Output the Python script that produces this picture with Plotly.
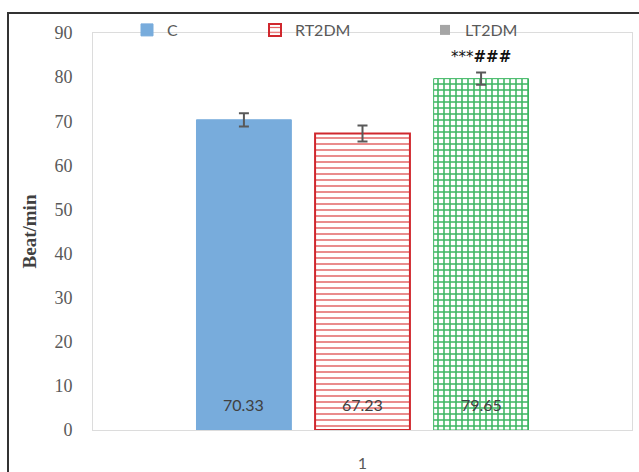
import plotly.graph_objects as go

# Heart rate per group (beats per minute), mean ± error
categories = ["1"]
groups = ["C", "RT2DM", "LT2DM"]
means = [70.33, 67.23, 79.65]
errors = [1.5, 1.8, 1.4]
significance = ["", "", "***<b>###</b>"]

# Plot-area geometry (pixels) used for the layout
W, H = 639, 472
ML, MR, MT, MB = 93, 7, 33, 42
PW = W - ML - MR
PH = H - MT - MB
BARGAP = 0.34
BARGROUPGAP = 0.2
slot_px = PW * (1 - BARGAP) / len(groups)

blue = "#78acdc"
red = "#d0282e"
red_dash = "#e46666"
green = "#3cb661"
grey_txt = "#595959"

fig = go.Figure()

styles = [
    dict(color=blue, line=dict(color=blue, width=1)),
    dict(color="white", line=dict(color=red, width=2),
         pattern=dict(shape="-", fgcolor=red_dash, bgcolor="white", size=6,
                      solidity=0.25, fillmode="replace")),
    dict(color="white", line=dict(color=green, width=1),
         pattern=dict(shape="+", fgcolor=green, bgcolor="white", size=6,
                      solidity=0.45, fillmode="replace")),
]
legend_ids = ["legend", "legend2", "legend3"]

for i, g in enumerate(groups):
    fig.add_trace(go.Bar(
        x=categories, y=[means[i]], name=g,
        marker=styles[i],
        error_y=dict(type="data", array=[errors[i]], color=grey_txt,
                     thickness=2, width=5),
        showlegend=(i < 2), legend=legend_ids[i],
    ))

# LT2DM legend key is a plain grey square
fig.add_trace(go.Scatter(
    x=[None], y=[None], mode="markers", name=groups[2],
    marker=dict(symbol="square", size=10, color="#a5a5a5"),
    legend="legend3", showlegend=True,
))

annotations = []
for i, g in enumerate(groups):
    shift = (i - (len(groups) - 1) / 2) * slot_px
    annotations.append(dict(
        x=0, y=0, xref="x", yref="y", xshift=shift, yshift=14,
        yanchor="bottom", text=f"{means[i]:.2f}", showarrow=False,
        font=dict(family="Lato", size=16, color="#404040"),
    ))
    if significance[i]:
        annotations.append(dict(
            x=0, y=means[i] + errors[i], xref="x", yref="y",
            xshift=shift, yshift=4, yanchor="bottom", text=significance[i],
            showarrow=False,
            font=dict(family="DejaVu Sans", size=15, color="#111111"),
        ))

legend_common = dict(
    orientation="h", yanchor="middle", xanchor="left",
    font=dict(family="Lato", size=16, color=grey_txt),
    bgcolor="rgba(0,0,0,0)",
)

def px_x(p):
    return (p - ML) / PW

def px_y(p):
    return (H - MB - p) / PH

fig.update_layout(
    width=W, height=H,
    margin=dict(l=ML, r=MR, t=MT, b=MB),
    paper_bgcolor="white", plot_bgcolor="white",
    barmode="group", bargap=BARGAP, bargroupgap=BARGROUPGAP,
    annotations=annotations,
    legend=dict(x=px_x(127), y=px_y(30), **legend_common),
    legend2=dict(x=px_x(255), y=px_y(30), **legend_common),
    legend3=dict(x=px_x(425), y=px_y(30), **legend_common),
    shapes=[dict(type="rect", xref="paper", yref="paper",
                 x0=px_x(8), x1=px_x(660), y0=px_y(500), y1=px_y(13),
                 line=dict(color="#333333", width=2), layer="below")],
    yaxis=dict(
        range=[0, 90], dtick=10, showgrid=False, zeroline=False,
        showline=True, mirror=True, linecolor="#dcdcdc", linewidth=1,
        ticks="", ticklabelstandoff=16, automargin=False,
        tickfont=dict(family="Liberation Serif", size=18, color=grey_txt),
        title=dict(text="<b>Beat/min</b>", standoff=12,
                   font=dict(family="Liberation Serif", size=19, color="#404040")),
    ),
    xaxis=dict(
        type="category", range=[-0.5, 0.5], automargin=False,
        showgrid=False, zeroline=False, showline=True, mirror=True,
        linecolor="#dcdcdc", linewidth=1, ticks="", ticklabelstandoff=19,
        tickfont=dict(family="Lato", size=16, color=grey_txt),
    ),
)

fig.write_html("out.html")
